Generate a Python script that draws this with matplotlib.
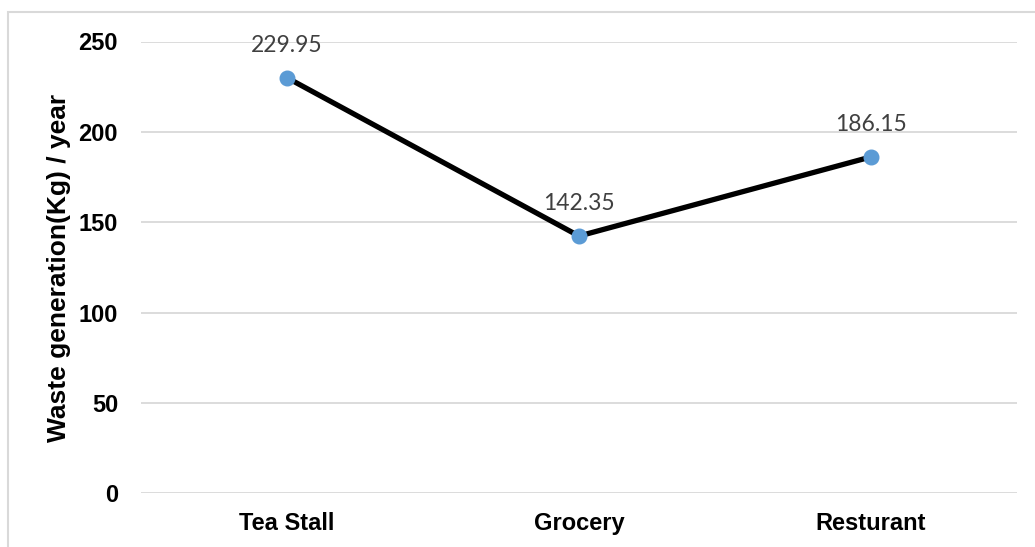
import matplotlib
matplotlib.use("Agg")
import matplotlib.pyplot as plt
from matplotlib.patches import Rectangle

categories = ["Tea Stall", "Grocery", "Resturant"]
values = [229.95, 142.35, 186.15]
yticks = [0, 50, 100, 150, 200, 250]
ylabel = "Waste generation(Kg) / year"

W, H = 1035, 547
fig = plt.figure(figsize=(W / 100, H / 100), dpi=100)
fig.patch.set_facecolor("white")

# outer chart border (extends beyond right/bottom edges)
fig.patches.append(Rectangle((8 / W, -0.05), 1.1, 1 - 12 / H + 0.05,
                             transform=fig.transFigure, fill=False,
                             edgecolor="#D9D9D9", linewidth=1.5))

left, right = 141 / W, 1017 / W
top, bottom = 1 - 41.5 / H, 1 - 493.3 / H
ax = fig.add_axes([left, bottom, right - left, top - bottom])

x = list(range(len(categories)))
ax.plot(x, values, color="black", linewidth=3.8, marker="o",
        markersize=10.5, markerfacecolor="#5B9BD5",
        markeredgecolor="#5B9BD5", zorder=3, solid_capstyle="round")

for xi, v in zip(x, values):
    ax.annotate(f"{v:.2f}", (xi, v), xytext=(0, 23.5), textcoords="offset points",
                ha="center", va="center", fontsize=16.5, color="#404040",
                family="Lato")

ax.set_xlim(-0.5, len(categories) - 0.5)
ax.set_ylim(0, 250)
ax.set_yticks(yticks)
ax.set_xticks(x)
ax.set_xticklabels(categories)
ax.yaxis.grid(True, color="#D9D9D9", linewidth=1.3)
ax.set_axisbelow(True)
for s in ax.spines.values():
    s.set_visible(False)
ax.tick_params(axis="both", length=0)
ax.tick_params(axis="y", pad=16.5)
ax.tick_params(axis="x", pad=13.5)
for lab in ax.get_xticklabels() + ax.get_yticklabels():
    lab.set_fontfamily("Liberation Sans")
    lab.set_fontweight("bold")
    lab.set_fontsize(17)
    lab.set_color("black")

fig.text(59 / W, 1 - 267.5 / H, ylabel, rotation=90, ha="center", va="center",
         fontsize=19, fontweight="bold", family="Liberation Sans")

fig.savefig("out.png", dpi=100, facecolor="white")
